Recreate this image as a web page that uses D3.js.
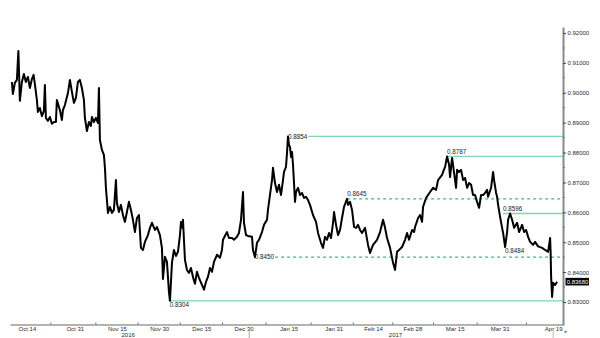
<!DOCTYPE html>
<html>
  <head>
    <meta charset="utf-8">
    <title>EUR/GBP</title>
    <script src="https://d3js.org/d3.v7.min.js"></script>
    <style>
      body { margin: 0; background: #fff; }
      svg { display: block; background: #fff; font-family: 'Liberation Sans', Arial, sans-serif; }
      .x-axis text, .y-axis text { fill: #2a2a2a; font-size: 6px; }
      .lvl-label { fill: #222; font-size: 6.3px; }
    </style>
  </head>
  <body>
    <div id="chart"></div>
    <script>

    // days after 14 Oct 2016 for each sample of the series
    var sampleDays = [
      -5.33,-4.98,-4.27,-3.55,-3.02,-2.49,-1.78,-1.07,-0.36,0.36,1.07,1.78,2.38,2.84,3.55,3.91,4.62,5.33,6.04,6.40,
      6.75,7.47,8.18,8.89,9.60,10.31,10.66,11.73,12.44,12.80,13.51,14.58,15.29,16.00,16.71,17.42,18.13,18.84,19.55,20.26,
      20.62,21.33,22.04,22.75,23.11,23.82,24.53,25.24,25.60,25.95,26.66,27.37,27.73,28.08,28.44,28.80,29.51,30.22,30.93,31.64,
      31.99,32.71,33.42,34.13,34.84,35.55,36.26,36.97,37.68,38.39,39.10,39.82,40.53,41.24,41.95,43.01,43.73,44.44,45.50,46.21,
      47.28,47.99,48.35,49.06,49.77,50.48,50.84,51.55,52.26,52.97,53.68,54.39,54.75,55.10,55.46,55.81,56.17,56.88,57.59,58.30,
      59.01,59.72,60.43,61.15,62.21,62.92,63.63,64.34,65.06,65.77,66.48,67.54,68.61,69.32,69.68,71.10,71.81,72.88,73.59,74.65,
      75.36,76.08,76.79,77.14,77.85,78.56,79.99,80.34,81.05,81.76,82.47,83.54,84.25,85.32,85.67,86.38,87.10,87.45,88.16,88.87,
      89.58,90.30,91.01,91.36,92.07,92.43,92.78,93.14,93.49,93.85,94.21,94.56,94.92,95.27,95.63,96.34,97.05,97.76,98.47,99.18,
      99.89,100.60,101.67,102.74,103.45,104.51,105.23,105.94,106.65,107.36,108.07,108.78,109.14,109.85,110.56,111.27,111.98,112.69,113.76,114.11,
      114.82,115.54,116.25,116.96,117.67,118.38,119.09,120.16,121.22,121.93,123.00,124.42,125.49,126.56,127.27,127.98,129.04,130.11,130.82,131.53,
      132.24,133.31,134.38,135.09,135.80,136.87,137.58,137.93,139.00,139.71,140.42,140.77,141.84,142.55,143.26,144.33,145.40,146.11,147.53,147.88,
      148.60,149.31,150.02,150.37,151.08,151.80,152.51,152.86,153.57,154.28,155.00,155.71,156.42,157.13,157.84,158.55,159.26,159.97,160.68,161.39,
      162.11,162.82,163.53,163.88,164.95,165.66,166.01,166.73,167.08,167.44,168.15,168.86,169.22,169.93,170.64,170.99,171.70,172.41,173.13,174.19,
      174.90,175.97,176.68,177.39,178.10,178.81,179.88,180.59,181.66,183.08,184.15,185.21,185.92,186.10,186.28,186.63,186.99,187.70,188.41
    ];

    var eurGbp = [
      0.9036,0.8996,0.9033,0.9043,0.9140,0.8973,0.9036,0.9063,0.9036,0.9053,0.9016,0.9046,0.9060,0.9029,0.8976,0.8936,0.8949,0.8922,0.8939,0.9026,
      0.8916,0.8906,0.8919,0.8896,0.8902,0.8902,0.8976,0.8942,0.8909,0.8942,0.8959,0.8999,0.9043,0.9003,0.8966,0.8983,0.9036,0.9043,0.9016,0.8976,
      0.8916,0.8872,0.8902,0.8889,0.8919,0.8902,0.8916,0.8899,0.9016,0.8842,0.8809,0.8792,0.8749,0.8682,0.8641,0.8598,0.8618,0.8598,0.8608,0.8708,
      0.8631,0.8601,0.8625,0.8591,0.8568,0.8601,0.8635,0.8608,0.8575,0.8534,0.8581,0.8591,0.8481,0.8474,0.8501,0.8524,0.8548,0.8565,0.8541,0.8551,
      0.8524,0.8481,0.8377,0.8451,0.8434,0.8334,0.8304,0.8431,0.8474,0.8454,0.8468,0.8524,0.8568,0.8548,0.8575,0.8508,0.8441,0.8407,0.8397,0.8414,
      0.8384,0.8361,0.8401,0.8381,0.8357,0.8341,0.8367,0.8384,0.8414,0.8401,0.8434,0.8458,0.8448,0.8474,0.8508,0.8534,0.8514,0.8514,0.8508,0.8518,
      0.8531,0.8575,0.8668,0.8565,0.8524,0.8521,0.8518,0.8474,0.8450,0.8498,0.8508,0.8534,0.8558,0.8575,0.8608,0.8658,0.8708,0.8749,0.8698,0.8668,
      0.8692,0.8658,0.8708,0.8735,0.8752,0.8799,0.8854,0.8825,0.8819,0.8785,0.8802,0.8759,0.8698,0.8635,0.8668,0.8682,0.8658,0.8665,0.8648,0.8652,
      0.8641,0.8625,0.8591,0.8568,0.8531,0.8498,0.8481,0.8518,0.8508,0.8531,0.8514,0.8565,0.8601,0.8558,0.8524,0.8541,0.8581,0.8618,0.8645,0.8625,
      0.8635,0.8608,0.8551,0.8548,0.8558,0.8541,0.8531,0.8548,0.8491,0.8464,0.8491,0.8508,0.8534,0.8575,0.8548,0.8514,0.8481,0.8431,0.8407,0.8468,
      0.8474,0.8484,0.8508,0.8531,0.8508,0.8541,0.8534,0.8551,0.8581,0.8591,0.8568,0.8618,0.8648,0.8658,0.8668,0.8682,0.8675,0.8708,0.8725,0.8735,
      0.8752,0.8787,0.8759,0.8718,0.8782,0.8732,0.8682,0.8742,0.8735,0.8742,0.8708,0.8715,0.8682,0.8698,0.8692,0.8658,0.8658,0.8635,0.8615,0.8658,
      0.8658,0.8665,0.8675,0.8652,0.8682,0.8735,0.8708,0.8665,0.8652,0.8625,0.8585,0.8548,0.8531,0.8484,0.8534,0.8575,0.8596,0.8575,0.8548,0.8565,
      0.8534,0.8558,0.8534,0.8541,0.8518,0.8501,0.8491,0.8501,0.8486,0.8481,0.8474,0.8468,0.8514,0.8468,0.8384,0.8317,0.8364,0.8357,0.8368
    ];

    var lastPrice = 0.8368;

    // x axis labels
    var tickDates = ["2016-10-14","2016-10-31","2016-11-15","2016-11-30","2016-12-15","2016-12-30",
                     "2017-01-15","2017-01-31","2017-02-14","2017-02-28","2017-03-15","2017-03-31","2017-04-19"];
    var yearNames = ["2016", "2017"];
    var yearLabelDates = ["2016-11-19", "2017-02-22"];
    var yearBreak = "2017-01-01";

    // y axis ticks
    var yTicks = [0.83,0.84,0.85,0.86,0.87,0.88,0.89,0.90,0.91,0.92];

    // annotated levels: value, day (after 14 Oct 2016) where the marker starts, kind
    var levelValues = [0.8854, 0.8787, 0.8645, 0.8596, 0.8450, 0.8484, 0.8304];
    var levelDays   = [92.8, 149.3, 113.8, 169.2, 81.0, 169.9, 50.8];
    var levelKinds  = ["solid", "solid", "dashed", "solid", "dashed", "none", "solid"];
    var levelLabelAt = ["inline", "above", "above", "above", "inline", "below", "below"];


    //********************
    // setup, scales
    //********************

    var width = 600,
        height = 338;

    var parseDay = d3.timeParse("%Y-%m-%d");
    var baseDate = parseDay("2016-10-14");
    var dayToDate = d => new Date(baseDate.getTime() + d * 864e5);

    var series = sampleDays.map((d, i) => ({date: dayToDate(d), value: eurGbp[i]}));

    var svg = d3.select("#chart").append("svg").attr("width", width).attr("height", height);

    var xScale = d3.scaleTime()
        .domain([parseDay("2016-10-08"), new Date(2017, 3, 22, 12)])
        .range([10, 563]);

    var yScale = d3.scaleLinear().domain([0.8223, 0.9220]).range([325, 27]);

    //**************
    // level lines
    //**************

    var fmt4 = d3.format(".4f");
    var lvl = svg.append("g");

    levelValues.forEach(function(v, i) {
        var x0 = xScale(dayToDate(levelDays[i]));
        var y0 = yScale(v);
        var where = levelLabelAt[i];

        var t = lvl.append("text")
            .attr("class", "lvl-label")
            .attr("x", x0)
            .attr("y", where == "inline" ? y0 : where == "above" ? y0 - 5 : y0 + 4)
            .attr("dy", "0.35em")
            .text(fmt4(v));

        if (levelKinds[i] == "none") return;
        var lineStart = where == "inline" ? x0 + t.node().getComputedTextLength() + 1 : x0;

        lvl.append("line")
            .attr("x1", lineStart)
            .attr("x2", 563)
            .attr("y1", y0)
            .attr("y2", y0)
            .attr("stroke", levelKinds[i] == "dashed" ? "#38bd84" : "#7ed6b3")
            .attr("stroke-width", 1.3)
            .attr("stroke-dasharray", levelKinds[i] == "dashed" ? "3,3" : null);
    });

    //**************
    // price line
    //**************

    var line = d3.line()
        .x(d => xScale(d.date))
        .y(d => yScale(d.value));

    svg.append("path")
        .datum(series)
        .attr("fill", "none")
        .attr("stroke", "#000")
        .attr("stroke-width", 2)
        .attr("stroke-linejoin", "round")
        .attr("d", line);

    //**************
    // axes
    //**************

    var xAxis = svg.append("g").attr("class", "x-axis")
        .attr("transform", "translate(0,324.5)")
        .call(d3.axisBottom(xScale)
            .tickValues(tickDates.map(parseDay))
            .tickSize(0)
            .tickSizeOuter(0)
            .tickPadding(2.5)
            .tickFormat(d3.timeFormat("%b %-d")));

    xAxis.select(".domain").attr("stroke", "#9a9a9a").attr("stroke-width", 1.6);

    // small marks half way between labels
    var tickList = tickDates.map(parseDay);
    var minor = d3.pairs(tickList).map(p => new Date((p[0].getTime() + p[1].getTime()) / 2));
    xAxis.selectAll("line.minor")
        .data(minor)
        .enter().append("line")
        .attr("class", "minor")
        .attr("x1", d => xScale(d)).attr("x2", d => xScale(d))
        .attr("y1", -2).attr("y2", 0)
        .attr("stroke", "#666");

    xAxis.selectAll("text.year")
        .data(yearNames)
        .enter().append("text")
        .attr("class", "year")
        .attr("x", (d, i) => xScale(parseDay(yearLabelDates[i])))
        .attr("y", 12)
        .attr("text-anchor", "middle")
        .attr("fill", "#2a2a2a")
        .style("font-size", "6px")
        .text(d => d);

    // year break and last day markers below the axis
    svg.append("line")
        .attr("x1", xScale(parseDay(yearBreak))).attr("x2", xScale(parseDay(yearBreak)))
        .attr("y1", 329).attr("y2", 338)
        .attr("stroke", "#aaa");
    svg.append("line")
        .attr("x1", xScale(parseDay("2017-04-19"))).attr("x2", xScale(parseDay("2017-04-19")))
        .attr("y1", 330).attr("y2", 338)
        .attr("stroke", "#bbb");
    svg.append("rect")
        .attr("x", 564.5).attr("y", 331).attr("width", 2).attr("height", 1.5)
        .attr("fill", "#555");

    var yAxis = svg.append("g").attr("class", "y-axis")
        .attr("transform", "translate(563,0)")
        .call(d3.axisRight(yScale)
            .tickValues(yTicks)
            .tickSize(3)
            .tickSizeOuter(0)
            .tickPadding(1.5)
            .tickFormat(d3.format(".5f")));

    yAxis.select(".domain").attr("stroke", "#8a8a8a").attr("stroke-width", 2);
    yAxis.selectAll(".tick line").attr("stroke", "#444");

    var yMinor = d3.pairs(yTicks).map(p => (p[0] + p[1]) / 2);
    yAxis.selectAll("line.minor")
        .data(yMinor)
        .enter().append("line")
        .attr("class", "minor")
        .attr("x1", 0).attr("x2", 2)
        .attr("y1", d => yScale(d)).attr("y2", d => yScale(d))
        .attr("stroke", "#777");

    // last price box
    var lp = svg.append("g").attr("transform", `translate(565.5,${yScale(lastPrice)})`);
    lp.append("rect")
        .attr("x", 0).attr("y", -3.8)
        .attr("width", 23.5).attr("height", 7.6)
        .attr("fill", "#000");
    lp.append("text")
        .attr("x", 1.2).attr("dy", "0.35em")
        .attr("fill", "#fff")
        .style("font-size", "6px")
        .text(d3.format(".5f")(lastPrice));

    </script>
  </body>
</html>
